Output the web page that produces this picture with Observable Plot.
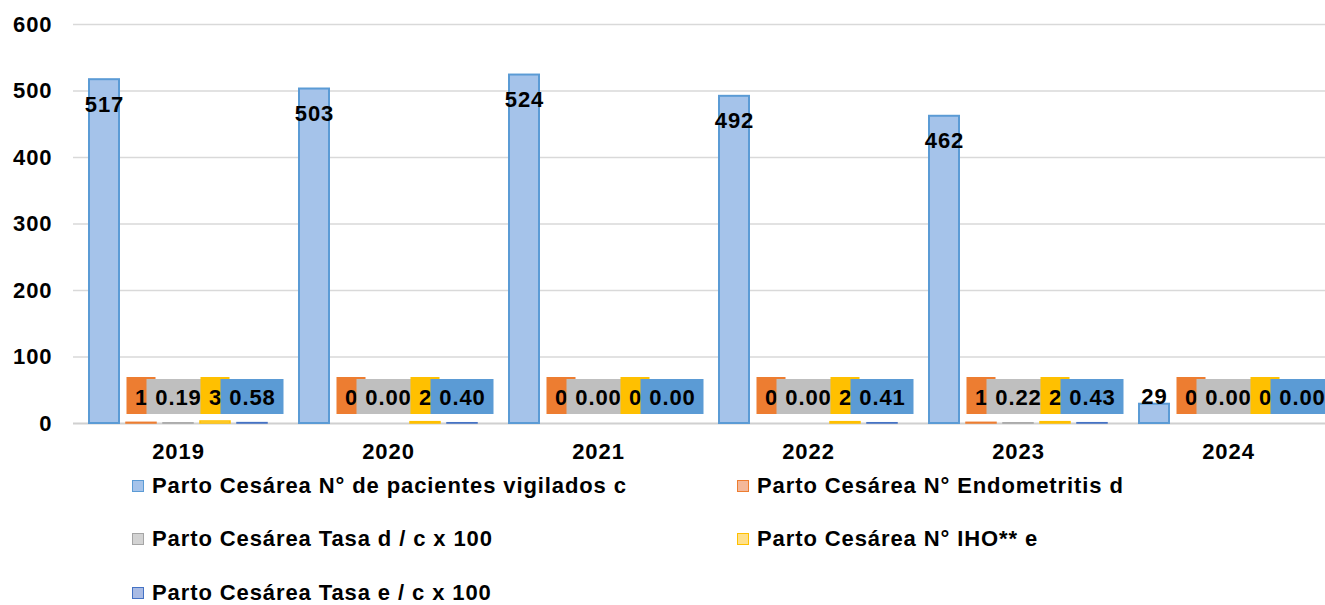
<!DOCTYPE html>
<html>
<head>
<meta charset="utf-8">
<script src="https://cdn.jsdelivr.net/npm/d3@7"></script>
<script src="https://cdn.jsdelivr.net/npm/@observablehq/plot@0.6"></script>
<style>
  html, body { margin: 0; padding: 0; background: #fff; overflow: hidden; }
  body { width: 1325px; height: 605px; font-family: "Liberation Sans", Arial, sans-serif; }
  #chart { width: 1325px; height: 465px; overflow: hidden; }
  #chart svg { max-width: none !important; width: 1333px; height: 465px; }
  #chart svg text { letter-spacing: 0.9px; }
  #legend {
    display: grid;
    grid-template-columns: 605px auto;
    grid-auto-rows: 53.5px;
    margin-top: -6px;
    padding-left: 132px;
    font: bold 22px "Liberation Sans", Arial, sans-serif;
    letter-spacing: 0.9px;
    color: #000;
  }
  .item { display: flex; align-items: center; white-space: nowrap; }
  .sw { width: 12px; height: 12px; box-sizing: border-box; border: 1.5px solid; margin-right: 8px; flex: none; }
</style>
</head>
<body>
<div id="chart"></div>
<div id="legend"></div>
<script>
// ---- data ----
const years = ["2019", "2020", "2021", "2022", "2023", "2024"];
const series = [
  "Parto Cesárea N° de pacientes vigilados c",
  "Parto Cesárea N° Endometritis d",
  "Parto Cesárea Tasa d / c x 100",
  "Parto Cesárea N° IHO** e",
  "Parto Cesárea Tasa e / c x 100"
];
const vigilados    = [517, 503, 524, 492, 462, 29];
const endometritis = [1, 0, 0, 0, 1, 0];
const tasaD        = [0.19, 0.00, 0.00, 0.00, 0.22, 0.00];
const iho          = [3, 2, 0, 2, 2, 0];
const tasaE        = [0.58, 0.40, 0.00, 0.41, 0.43, 0.00];
const yTicks = [0, 100, 200, 300, 400, 500, 600];

// ---- styles ----
const barFill   = ["#a5c3ea", "#f4b89a", "#d3d3d3", "#ffe08a", "#a9bbe4"];
const barStroke = ["#5b9bd5", "#ed7d31", "#a5a5a5", "#ffc000", "#4472c4"];
const boxFill   = [null, "#ed7d31", "#bfbfbf", "#ffc000", "#5b9bd5"];
const fmt = [d3.format("d"), d3.format("d"), d3.format(".2f"), d3.format("d"), d3.format(".2f")];

const valuesBySeries = [vigilados, endometritis, tasaD, iho, tasaE];
const rows = years.flatMap((year, i) =>
  series.map((s, k) => ({year, series: s, k, value: valuesBySeries[k][i]}))
);

const marks = [
  Plot.ruleY(yTicks.filter(t => t > 0), {stroke: "#d9d9d9", strokeWidth: 1.5}),
  Plot.ruleY([0], {stroke: "#d0d0d0", strokeWidth: 2})
];
// bars
series.forEach((s, k) => {
  marks.push(Plot.barY(rows, {
    filter: d => d.k === k && d.value > 0,
    fx: "year", x: "series", y: "value",
    fill: barFill[k], stroke: barStroke[k], strokeWidth: k === 0 ? 2 : 1.5
  }));
});
// labels for series 1
marks.push(Plot.text(rows, {
  filter: d => d.k === 0 && d.value >= 100,
  fx: "year", x: "series", y: "value", text: d => fmt[0](d.value), dy: 25, fill: "#000"
}));
marks.push(Plot.text(rows, {
  filter: d => d.k === 0 && d.value < 100,
  fx: "year", x: "series", y: "value", text: d => fmt[0](d.value), dy: -7, fill: "#000"
}));
// boxed labels for other series
for (let k = 1; k < 5; k++) {
  const wide = k === 2 || k === 4;
  marks.push(Plot.barY(rows, {
    filter: d => d.k === k,
    fx: "year", x: "series", y1: 0, y2: 0,
    insetTop: wide ? -44 : -46, insetBottom: 9,
    insetLeft: wide ? -16.5 : 0.5, insetRight: wide ? -16.5 : 0.5,
    fill: boxFill[k]
  }));
  marks.push(Plot.text(rows, {
    filter: d => d.k === k,
    fx: "year", x: "series", y: 0, dy: -26,
    text: d => fmt[k](d.value), fill: "#000"
  }));
}

const chart = Plot.plot({
  width: 1333,
  height: 465,
  marginTop: 24,
  marginBottom: 42,
  marginLeft: 73,
  marginRight: 0,
  style: {
    fontFamily: "'Liberation Sans', Arial, sans-serif",
    fontSize: "22px",
    fontWeight: "bold",
    color: "#000",
    background: "#fff",
    overflow: "visible"
  },
  fx: {domain: years, padding: 0, axis: "bottom", label: null, tickSize: 0, tickPadding: 20},
  x: {domain: series, paddingInner: 0.2, paddingOuter: 0.38, axis: null},
  y: {domain: [0, 600], ticks: yTicks, tickSize: 0, tickPadding: 21, label: null},
  marks
});
document.getElementById("chart").appendChild(chart);

// ---- legend ----
const legend = document.getElementById("legend");
series.forEach((s, k) => {
  const item = document.createElement("div");
  item.className = "item";
  const sw = document.createElement("span");
  sw.className = "sw";
  sw.style.background = barFill[k];
  sw.style.borderColor = barStroke[k];
  item.appendChild(sw);
  item.appendChild(document.createTextNode(s));
  legend.appendChild(item);
});
</script>
</body>
</html>
